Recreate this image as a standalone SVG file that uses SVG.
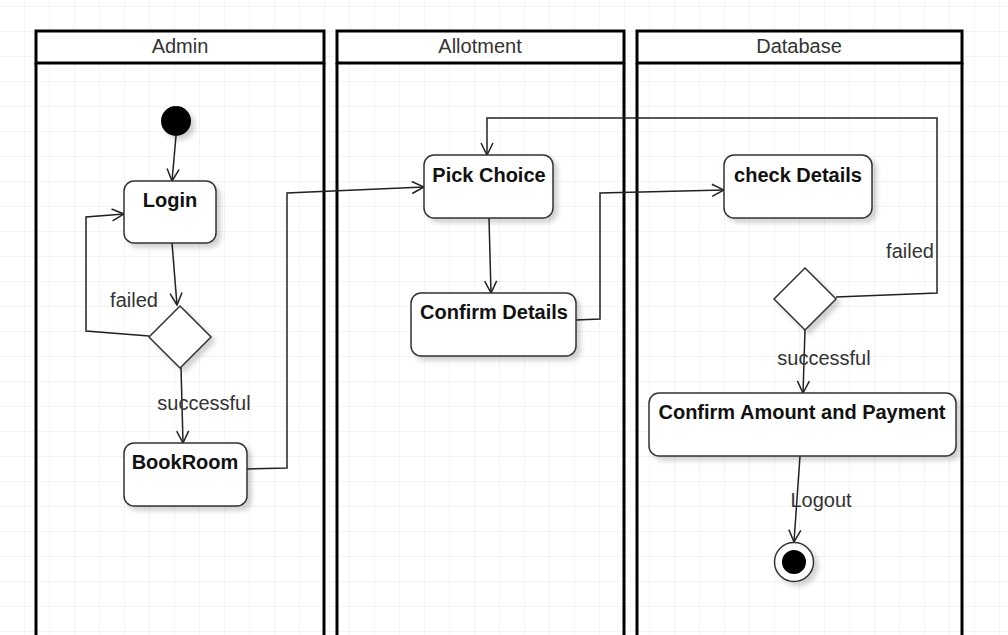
<svg xmlns="http://www.w3.org/2000/svg" width="1008" height="635" viewBox="0 0 1008 635">
<style>
.lane{fill:none;stroke:#000;stroke-width:3}
.hdr{fill:#fff;stroke:#000;stroke-width:3}
.ht{font-family:"Liberation Sans",Arial,sans-serif;font-size:20px;fill:#333;text-anchor:middle}
.node{fill:#fff;stroke:#333;stroke-width:1.5;filter:url(#sh)}
.nt{font-family:"Liberation Sans",Arial,sans-serif;font-size:20px;font-weight:bold;fill:#111;text-anchor:middle}
.lbl{font-family:"Liberation Sans",Arial,sans-serif;font-size:20px;fill:#333;text-anchor:middle}
.edge{fill:none;stroke:#222;stroke-width:1.5;marker-end:url(#arr)}
</style>
<defs>
<pattern id="grid" width="25" height="25" patternUnits="userSpaceOnUse" x="0" y="7">
<path d="M25 0V25M0 25H25" fill="none" stroke="#e8e8e8" stroke-width="1"/>
</pattern>
<filter id="sh" x="-20%" y="-20%" width="150%" height="150%">
<feDropShadow dx="4" dy="4" stdDeviation="2.5" flood-color="#000" flood-opacity="0.18"/>
</filter>
<marker id="arr" viewBox="0 0 14 14" refX="13" refY="7" markerWidth="14" markerHeight="14" markerUnits="userSpaceOnUse" orient="auto">
<path d="M1 1L13 7L1 13" fill="none" stroke="#222" stroke-width="1.5"/>
</marker>
</defs>
<rect width="1008" height="635" fill="#fff"/>
<rect width="1008" height="635" fill="url(#grid)"/>
<g id="lane-admin">
<rect class="hdr" x="36" y="31" width="288" height="32"/>
<path class="lane" d="M36 63V640M324 63V640"/>
<text class="ht" x="180" y="53">Admin</text>
</g>
<g id="lane-allotment">
<rect class="hdr" x="337" y="31" width="287" height="32"/>
<path class="lane" d="M337 63V640M624 63V640"/>
<text class="ht" x="480" y="53">Allotment</text>
</g>
<g id="lane-database">
<rect class="hdr" x="637" y="31" width="325" height="32"/>
<path class="lane" d="M637 63V640M962 63V640"/>
<text class="ht" x="799" y="53">Database</text>
</g>
<g id="connectors">
<path class="edge" d="M176 136L172 181"/>
<path class="edge" d="M172 243L177 305"/>
<path class="edge" d="M149 336L86 331V217L124 214"/>
<path class="edge" d="M181 367L183 443"/>
<path class="edge" d="M247 469L287 468V193L424 187"/>
<path class="edge" d="M489 218L491 293"/>
<path class="edge" d="M576 320L600 319V193L724 190"/>
<path class="edge" d="M836 297L937 293V118H487V155"/>
<path class="edge" d="M805 330L803 393"/>
<path class="edge" d="M800 456L794 542"/>
<text class="lbl" x="134" y="307">failed</text>
<text class="lbl" x="204" y="410">successful</text>
<text class="lbl" x="910" y="258">failed</text>
<text class="lbl" x="824" y="365">successful</text>
<text class="lbl" x="821" y="507">Logout</text>
</g>
<g id="start">
<circle cx="176" cy="121" r="15" fill="#000" filter="url(#sh)"/>
</g>
<g id="login">
<rect class="node" x="124" y="181" width="92" height="62" rx="10"/>
<text class="nt" x="170" y="207">Login</text>
</g>
<g id="decision1">
<path class="node" d="M180 306L211 337L180 368L149 337Z"/>
</g>
<g id="bookroom">
<rect class="node" x="124" y="443" width="123" height="63" rx="10"/>
<text class="nt" x="185" y="469">BookRoom</text>
</g>
<g id="pickchoice">
<rect class="node" x="424" y="155" width="129" height="63" rx="10"/>
<text class="nt" x="489" y="182">Pick Choice</text>
</g>
<g id="confirmdetails">
<rect class="node" x="411" y="293" width="165" height="63" rx="10"/>
<text class="nt" x="494" y="319">Confirm Details</text>
</g>
<g id="checkdetails">
<rect class="node" x="724" y="155" width="148" height="63" rx="10"/>
<text class="nt" x="798" y="182">check Details</text>
</g>
<g id="decision2">
<path class="node" d="M805 268L836 299L805 330L774 299Z"/>
</g>
<g id="confirmpayment">
<rect class="node" x="649" y="393" width="307" height="63" rx="10"/>
<text class="nt" x="802" y="419">Confirm Amount and Payment</text>
</g>
<g id="end">
<circle cx="794" cy="562" r="19.5" fill="#fff" stroke="#333" stroke-width="1.5" filter="url(#sh)"/>
<circle cx="794" cy="562" r="12" fill="#000"/>
</g>
</svg>
